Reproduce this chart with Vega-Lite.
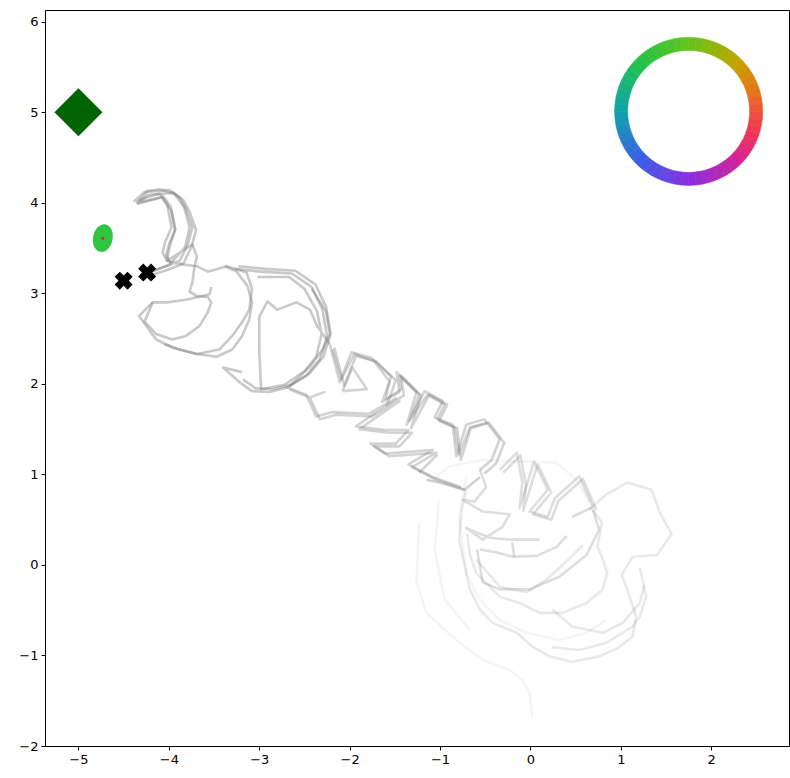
{
"$schema": "https://vega.github.io/schema/vega-lite/v6.json",
"width": 744, "height": 736,
"autosize": {"type": "none"},
"padding": {"left": 45, "top": 10, "right": 1, "bottom": 32},
"background": "white",
"config": {
  "view": {"stroke": "#000", "strokeWidth": 1},
  "axis": {"domain": false, "grid": false, "tickColor": "#000", "tickSize": 4, "labelFont": "DejaVu Sans", "labelFontSize": 13, "labelColor": "#000", "labelPadding": 3}
},
"datasets": {
  "la": [
    {"p":1,"x":-4.24,"y":3.23},{"p":1,"x":-4.05,"y":3.29},{"p":1,"x":-3.88,"y":3.36},{"p":1,"x":-3.79,"y":3.54},{"p":1,"x":-3.74,"y":3.73},{"p":1,"x":-3.81,"y":3.93},{"p":1,"x":-3.88,"y":4.06},{"p":1,"x":-3.99,"y":4.14},{"p":1,"x":-4.27,"y":4.12},{"p":1,"x":-4.38,"y":4.02},{"p":1,"x":-4.10,"y":4.10},{"p":1,"x":-4.02,"y":3.99},{"p":1,"x":-3.97,"y":3.73},{"p":1,"x":-4.04,"y":3.57},{"p":1,"x":-4.07,"y":3.45},{"p":1,"x":-4.02,"y":3.36},{"p":1,"x":-3.85,"y":3.32},{"p":1,"x":-3.69,"y":3.30},{"p":1,"x":-3.57,"y":3.24},{"p":1,"x":-3.36,"y":3.30},{"p":1,"x":-3.14,"y":3.23},{"p":1,"x":-3.08,"y":3.05},{"p":1,"x":-3.11,"y":2.82},{"p":1,"x":-3.19,"y":2.68},{"p":1,"x":-3.30,"y":2.53},{"p":1,"x":-3.44,"y":2.38},{"p":1,"x":-3.69,"y":2.33},{"p":1,"x":-3.96,"y":2.40},{"p":1,"x":-4.14,"y":2.49},{"p":1,"x":-4.25,"y":2.64},{"p":1,"x":-4.33,"y":2.75},{"p":1,"x":-4.18,"y":2.90},{"p":1,"x":-4.02,"y":2.90},{"p":1,"x":-3.81,"y":2.93},{"p":1,"x":-3.55,"y":2.99},{"p":1,"x":-3.53,"y":3.07},
    {"p":2,"x":-4.19,"y":3.24},{"p":2,"x":-3.99,"y":3.32},{"p":2,"x":-3.82,"y":3.51},{"p":2,"x":-3.77,"y":3.73},{"p":2,"x":-3.83,"y":3.95},{"p":2,"x":-3.94,"y":4.10},{"p":2,"x":-4.10,"y":4.15},{"p":2,"x":-4.24,"y":4.13},{"p":2,"x":-4.35,"y":4.00},{"p":2,"x":-4.08,"y":4.06},{"p":2,"x":-3.97,"y":3.91},{"p":2,"x":-3.93,"y":3.71},{"p":2,"x":-3.99,"y":3.52},{"p":2,"x":-4.02,"y":3.36},{"p":2,"x":-3.74,"y":3.54},{"p":2,"x":-3.69,"y":3.41},{"p":2,"x":-3.72,"y":3.27},{"p":2,"x":-3.74,"y":3.12},{"p":2,"x":-3.77,"y":3.02},{"p":2,"x":-3.69,"y":2.97},{"p":2,"x":-3.57,"y":2.96},{"p":2,"x":-3.53,"y":2.90},{"p":2,"x":-3.57,"y":2.79},{"p":2,"x":-3.66,"y":2.64},{"p":2,"x":-3.81,"y":2.53},{"p":2,"x":-3.96,"y":2.49},{"p":2,"x":-4.14,"y":2.55},{"p":2,"x":-4.27,"y":2.69},{"p":2,"x":-4.21,"y":2.82},{"p":2,"x":-4.18,"y":2.90},
    {"p":3,"x":-3.38,"y":3.30},{"p":3,"x":-3.25,"y":3.24},{"p":3,"x":-3.13,"y":3.08},{"p":3,"x":-3.08,"y":2.90},{"p":3,"x":-3.11,"y":2.71},{"p":3,"x":-3.19,"y":2.53},{"p":3,"x":-3.30,"y":2.38},{"p":3,"x":-3.47,"y":2.30},{"p":3,"x":-3.69,"y":2.33},{"p":3,"x":-3.88,"y":2.38},{"p":3,"x":-4.05,"y":2.44},
    {"p":4,"x":-3.27,"y":3.27},{"p":4,"x":-2.98,"y":3.24},{"p":4,"x":-2.64,"y":3.22},{"p":4,"x":-2.42,"y":3.07},{"p":4,"x":-2.30,"y":2.82},{"p":4,"x":-2.25,"y":2.52},{"p":4,"x":-2.33,"y":2.27},{"p":4,"x":-2.48,"y":2.09},{"p":4,"x":-2.69,"y":1.96},{"p":4,"x":-2.89,"y":1.91},{"p":4,"x":-3.08,"y":1.92},{"p":4,"x":-3.22,"y":2.02},{"p":4,"x":-3.40,"y":2.18},{"p":4,"x":-3.19,"y":2.13},
    {"p":5,"x":-3.02,"y":3.18},{"p":5,"x":-2.67,"y":3.18},{"p":5,"x":-2.50,"y":3.05},{"p":5,"x":-2.36,"y":2.80},{"p":5,"x":-2.31,"y":2.55},{"p":5,"x":-2.37,"y":2.30},{"p":5,"x":-2.50,"y":2.14},{"p":5,"x":-2.72,"y":1.99},{"p":5,"x":-2.98,"y":1.94},{"p":5,"x":-3.00,"y":2.38},{"p":5,"x":-3.00,"y":2.74},{"p":5,"x":-2.91,"y":2.91},{"p":5,"x":-2.80,"y":2.82},{"p":5,"x":-2.59,"y":2.90},{"p":5,"x":-2.44,"y":2.82},{"p":5,"x":-2.36,"y":2.64},{"p":5,"x":-2.22,"y":2.44},
    {"p":6,"x":-2.67,"y":1.97},{"p":6,"x":-2.44,"y":2.19},{"p":6,"x":-2.30,"y":2.38},{"p":6,"x":-2.22,"y":2.55},{"p":6,"x":-2.26,"y":2.80},{"p":6,"x":-2.42,"y":3.05},
    {"p":7,"x":-4.20,"y":3.20},{"p":7,"x":-4.01,"y":3.26},{"p":7,"x":-3.84,"y":3.33},{"p":7,"x":-3.75,"y":3.51},{"p":7,"x":-3.70,"y":3.70},{"p":7,"x":-3.77,"y":3.90},{"p":7,"x":-3.84,"y":4.03},{"p":7,"x":-3.95,"y":4.11},{"p":7,"x":-4.23,"y":4.09},{"p":7,"x":-4.34,"y":3.99},{"p":7,"x":-4.06,"y":4.07},{"p":7,"x":-3.98,"y":3.96},{"p":7,"x":-3.93,"y":3.70},{"p":7,"x":-4.00,"y":3.54},{"p":7,"x":-4.03,"y":3.42},{"p":7,"x":-3.98,"y":3.33},
    {"p":8,"x":-3.23,"y":3.30},{"p":8,"x":-2.94,"y":3.27},{"p":8,"x":-2.60,"y":3.25},{"p":8,"x":-2.38,"y":3.10},{"p":8,"x":-2.26,"y":2.85},{"p":8,"x":-2.21,"y":2.55},{"p":8,"x":-2.29,"y":2.30},{"p":8,"x":-2.44,"y":2.12},{"p":8,"x":-2.65,"y":1.99},{"p":8,"x":-2.85,"y":1.94},{"p":8,"x":-3.04,"y":1.95},{"p":8,"x":-3.18,"y":2.05}
  ],
  "lb": [
    {"p":1,"x":-2.22,"y":2.44},{"p":1,"x":-2.11,"y":2.02},{"p":1,"x":-1.98,"y":2.35},{"p":1,"x":-1.76,"y":2.29},{"p":1,"x":-1.54,"y":2.08},{"p":1,"x":-1.64,"y":1.80},{"p":1,"x":-1.45,"y":1.91},{"p":1,"x":-1.48,"y":2.13},{"p":1,"x":-1.26,"y":1.91},{"p":1,"x":-1.37,"y":1.55},{"p":1,"x":-1.17,"y":1.92},{"p":1,"x":-0.97,"y":1.81},{"p":1,"x":-1.06,"y":1.63},{"p":1,"x":-0.86,"y":1.55},{"p":1,"x":-0.82,"y":1.20},{"p":1,"x":-0.71,"y":1.55},{"p":1,"x":-0.51,"y":1.61},{"p":1,"x":-0.34,"y":1.39},{"p":1,"x":-0.43,"y":1.16},{"p":1,"x":-0.56,"y":1.05},
    {"p":2,"x":-2.67,"y":1.94},{"p":2,"x":-2.44,"y":1.85},{"p":2,"x":-2.28,"y":1.91},{"p":2,"x":-2.44,"y":1.85},{"p":2,"x":-2.33,"y":1.61},{"p":2,"x":-2.15,"y":1.66},{"p":2,"x":-1.75,"y":1.64},{"p":2,"x":-1.45,"y":1.81},{"p":2,"x":-1.89,"y":1.50},{"p":2,"x":-1.56,"y":1.46},{"p":2,"x":-1.31,"y":1.46},{"p":2,"x":-1.45,"y":1.31},{"p":2,"x":-1.73,"y":1.31},{"p":2,"x":-1.56,"y":1.20},{"p":2,"x":-1.04,"y":1.24},{"p":2,"x":-1.31,"y":1.08},{"p":2,"x":-1.04,"y":0.94},{"p":2,"x":-0.73,"y":0.83},{"p":2,"x":-0.56,"y":0.97},
    {"p":3,"x":-2.08,"y":1.92},{"p":3,"x":-1.97,"y":2.18},{"p":3,"x":-1.81,"y":1.94},{"p":3,"x":-2.08,"y":1.92},
    {"p":4,"x":-2.19,"y":2.38},{"p":4,"x":-2.09,"y":2.05},{"p":4,"x":-1.95,"y":2.33},{"p":4,"x":-1.73,"y":2.25},{"p":4,"x":-1.56,"y":2.03},{"p":4,"x":-1.60,"y":1.83},{"p":4,"x":-1.43,"y":1.94},{"p":4,"x":-1.45,"y":2.09},{"p":4,"x":-1.23,"y":1.88},{"p":4,"x":-1.34,"y":1.59},{"p":4,"x":-1.14,"y":1.88},{"p":4,"x":-0.95,"y":1.77},{"p":4,"x":-1.03,"y":1.61},{"p":4,"x":-0.84,"y":1.52},{"p":4,"x":-0.79,"y":1.22},{"p":4,"x":-0.67,"y":1.52},{"p":4,"x":-0.48,"y":1.57},
    {"p":5,"x":-1.23,"y":1.02},{"p":5,"x":-1.03,"y":1.22},
    {"p":6,"x":-1.15,"y":0.94},{"p":6,"x":-1.01,"y":0.91},{"p":6,"x":-0.73,"y":0.83},
    {"p":7,"x":-2.17,"y":2.40},{"p":7,"x":-2.06,"y":1.98},{"p":7,"x":-1.93,"y":2.31},{"p":7,"x":-1.71,"y":2.25},{"p":7,"x":-1.49,"y":2.04},{"p":7,"x":-1.59,"y":1.76},{"p":7,"x":-1.40,"y":1.87},{"p":7,"x":-1.43,"y":2.09},{"p":7,"x":-1.21,"y":1.87},{"p":7,"x":-1.32,"y":1.51},{"p":7,"x":-1.12,"y":1.88},{"p":7,"x":-0.92,"y":1.77},{"p":7,"x":-1.01,"y":1.59},{"p":7,"x":-0.81,"y":1.51},{"p":7,"x":-0.77,"y":1.16},{"p":7,"x":-0.66,"y":1.51},{"p":7,"x":-0.46,"y":1.57},{"p":7,"x":-0.29,"y":1.35},{"p":7,"x":-0.38,"y":1.12},{"p":7,"x":-0.51,"y":1.01},
    {"p":8,"x":-2.71,"y":1.97},{"p":8,"x":-2.48,"y":1.88},{"p":8,"x":-2.37,"y":1.64},{"p":8,"x":-2.19,"y":1.69},{"p":8,"x":-1.79,"y":1.67},{"p":8,"x":-1.49,"y":1.84},{"p":8,"x":-1.93,"y":1.53},{"p":8,"x":-1.60,"y":1.49},{"p":8,"x":-1.35,"y":1.49},{"p":8,"x":-1.49,"y":1.34},{"p":8,"x":-1.77,"y":1.34},{"p":8,"x":-1.60,"y":1.23},{"p":8,"x":-1.08,"y":1.27},{"p":8,"x":-1.35,"y":1.11},{"p":8,"x":-1.08,"y":0.97},{"p":8,"x":-0.77,"y":0.86}
  ],
  "lc": [
    {"p":1,"x":-0.56,"y":1.05},{"p":1,"x":-0.49,"y":0.86},{"p":1,"x":-0.62,"y":0.70},{"p":1,"x":-0.75,"y":0.72},{"p":1,"x":-0.53,"y":0.59},{"p":1,"x":-0.23,"y":0.56},{"p":1,"x":-0.31,"y":0.42},{"p":1,"x":-0.53,"y":0.28},{"p":1,"x":-0.71,"y":0.41},{"p":1,"x":-0.67,"y":0.39},{"p":1,"x":-0.45,"y":0.30},{"p":1,"x":-0.23,"y":0.28},{"p":1,"x":0.10,"y":0.28},
    {"p":2,"x":-0.34,"y":1.05},{"p":2,"x":-0.15,"y":1.24},{"p":2,"x":-0.09,"y":0.91},{"p":2,"x":-0.12,"y":0.63},{"p":2,"x":0.04,"y":1.14},{"p":2,"x":0.19,"y":0.83},{"p":2,"x":-0.01,"y":0.59},{"p":2,"x":0.19,"y":0.53},{"p":2,"x":0.27,"y":0.74},{"p":2,"x":0.54,"y":0.98},{"p":2,"x":0.69,"y":0.64},{"p":2,"x":0.46,"y":0.53},
    {"p":3,"x":-0.56,"y":0.17},{"p":3,"x":-0.38,"y":0.14},{"p":3,"x":-0.20,"y":0.09},{"p":3,"x":0.07,"y":0.10},{"p":3,"x":0.29,"y":0.20},{"p":3,"x":0.40,"y":0.32},
    {"p":4,"x":-0.20,"y":0.25},{"p":4,"x":-0.18,"y":0.09},
    {"p":5,"x":-0.59,"y":0.17},{"p":5,"x":-0.53,"y":-0.19},{"p":5,"x":-0.34,"y":-0.27},{"p":5,"x":-0.01,"y":-0.27},{"p":5,"x":0.32,"y":-0.13},{"p":5,"x":0.62,"y":0.11},{"p":5,"x":0.76,"y":0.39},{"p":5,"x":0.69,"y":0.61},
    {"p":6,"x":-0.30,"y":1.02},{"p":6,"x":-0.11,"y":1.21},{"p":6,"x":-0.05,"y":0.88},{"p":6,"x":-0.08,"y":0.60},{"p":6,"x":0.08,"y":1.11},{"p":6,"x":0.23,"y":0.80},{"p":6,"x":0.03,"y":0.56},{"p":6,"x":0.23,"y":0.50},{"p":6,"x":0.31,"y":0.71},{"p":6,"x":0.58,"y":0.95},{"p":6,"x":0.73,"y":0.61}
  ],
  "ld": [
    {"p":1,"x":0.65,"y":0.61},{"p":1,"x":0.84,"y":0.78},{"p":1,"x":1.07,"y":0.91},{"p":1,"x":1.34,"y":0.83},{"p":1,"x":1.43,"y":0.58},{"p":1,"x":1.56,"y":0.34},{"p":1,"x":1.40,"y":0.11},{"p":1,"x":1.13,"y":0.09},{"p":1,"x":1.01,"y":-0.11},{"p":1,"x":1.07,"y":-0.27},{"p":1,"x":1.17,"y":-0.57},{"p":1,"x":1.13,"y":-0.79},{"p":1,"x":0.98,"y":-0.91},{"p":1,"x":0.76,"y":-1.01},{"p":1,"x":0.46,"y":-1.07},{"p":1,"x":0.21,"y":-1.01},{"p":1,"x":0.02,"y":-0.90},{"p":1,"x":-0.15,"y":-0.75},{"p":1,"x":-0.42,"y":-0.64},{"p":1,"x":-0.56,"y":-0.49},{"p":1,"x":-0.67,"y":-0.27},{"p":1,"x":-0.71,"y":-0.09},{"p":1,"x":-0.79,"y":0.28},{"p":1,"x":-0.76,"y":0.61},{"p":1,"x":-0.71,"y":0.83},
    {"p":2,"x":0.69,"y":0.61},{"p":2,"x":0.79,"y":0.47},{"p":2,"x":0.74,"y":0.20},{"p":2,"x":0.79,"y":0.09},{"p":2,"x":0.85,"y":-0.09},{"p":2,"x":0.80,"y":-0.27},{"p":2,"x":0.62,"y":-0.42},{"p":2,"x":0.35,"y":-0.53},{"p":2,"x":0.10,"y":-0.53},{"p":2,"x":-0.12,"y":-0.42},{"p":2,"x":-0.34,"y":-0.35},{"p":2,"x":-0.45,"y":-0.24},{"p":2,"x":-0.60,"y":-0.09},{"p":2,"x":-0.67,"y":0.11},{"p":2,"x":-0.70,"y":0.34},
    {"p":3,"x":1.21,"y":-0.03},{"p":3,"x":1.28,"y":-0.35},{"p":3,"x":1.21,"y":-0.57},{"p":3,"x":1.13,"y":-0.68},{"p":3,"x":0.84,"y":-0.86},{"p":3,"x":0.54,"y":-0.94},{"p":3,"x":0.24,"y":-0.91},
    {"p":4,"x":0.24,"y":-0.49},{"p":4,"x":0.46,"y":-0.68},{"p":4,"x":0.80,"y":-0.75},{"p":4,"x":1.02,"y":-0.64},{"p":4,"x":1.21,"y":-0.42},{"p":4,"x":1.26,"y":-0.22},
    {"p":5,"x":-0.60,"y":0.06},{"p":5,"x":-0.34,"y":-0.24},{"p":5,"x":-0.04,"y":-0.30},{"p":5,"x":0.18,"y":-0.16},{"p":5,"x":0.40,"y":0.04},{"p":5,"x":0.58,"y":0.22}
  ],
  "le": [
    {"p":1,"x":-1.12,"y":0.91},{"p":1,"x":-0.90,"y":1.09},{"p":1,"x":-0.53,"y":1.16},{"p":1,"x":-0.04,"y":1.14},{"p":1,"x":0.29,"y":1.13},{"p":1,"x":0.51,"y":0.94},{"p":1,"x":0.65,"y":0.69},
    {"p":2,"x":-1.23,"y":0.47},{"p":2,"x":-1.26,"y":-0.19},{"p":2,"x":-1.15,"y":-0.53},{"p":2,"x":-0.82,"y":-0.83},{"p":2,"x":-0.53,"y":-1.05},{"p":2,"x":-0.23,"y":-1.16},{"p":2,"x":-0.09,"y":-1.27},{"p":2,"x":-0.01,"y":-1.41},{"p":2,"x":0.02,"y":-1.68},
    {"p":3,"x":-0.71,"y":0.98},{"p":3,"x":-0.79,"y":0.53},{"p":3,"x":-0.71,"y":-0.09},{"p":3,"x":-0.56,"y":-0.38},{"p":3,"x":-0.34,"y":-0.61},{"p":3,"x":-0.04,"y":-0.75},{"p":3,"x":0.32,"y":-0.83},{"p":3,"x":0.62,"y":-0.75},{"p":3,"x":0.84,"y":-0.61},
    {"p":4,"x":-1.01,"y":0.72},{"p":4,"x":-1.06,"y":0.17},{"p":4,"x":-0.95,"y":-0.38},{"p":4,"x":-0.67,"y":-0.72}
  ],
  "goal": [{"x": -5.0, "y": 5.0}],
  "blob": [{"x": -4.73, "y": 3.61}],
  "xs": [{"x": -4.50, "y": 3.14}, {"x": -4.24, "y": 3.23}],
  "ring": [
    {"x":1.75,"y":5.01,"a0":0,"a1":6,"c":3},{"x":1.75,"y":5.01,"a0":6,"a1":12,"c":9},{"x":1.75,"y":5.01,"a0":12,"a1":18,"c":15},{"x":1.75,"y":5.01,"a0":18,"a1":24,"c":21},{"x":1.75,"y":5.01,"a0":24,"a1":30,"c":27},{"x":1.75,"y":5.01,"a0":30,"a1":36,"c":33},{"x":1.75,"y":5.01,"a0":36,"a1":42,"c":39},{"x":1.75,"y":5.01,"a0":42,"a1":48,"c":45},{"x":1.75,"y":5.01,"a0":48,"a1":54,"c":51},{"x":1.75,"y":5.01,"a0":54,"a1":60,"c":57},
    {"x":1.75,"y":5.01,"a0":60,"a1":66,"c":63},{"x":1.75,"y":5.01,"a0":66,"a1":72,"c":69},{"x":1.75,"y":5.01,"a0":72,"a1":78,"c":75},{"x":1.75,"y":5.01,"a0":78,"a1":84,"c":81},{"x":1.75,"y":5.01,"a0":84,"a1":90,"c":87},{"x":1.75,"y":5.01,"a0":90,"a1":96,"c":93},{"x":1.75,"y":5.01,"a0":96,"a1":102,"c":99},{"x":1.75,"y":5.01,"a0":102,"a1":108,"c":105},{"x":1.75,"y":5.01,"a0":108,"a1":114,"c":111},{"x":1.75,"y":5.01,"a0":114,"a1":120,"c":117},
    {"x":1.75,"y":5.01,"a0":120,"a1":126,"c":123},{"x":1.75,"y":5.01,"a0":126,"a1":132,"c":129},{"x":1.75,"y":5.01,"a0":132,"a1":138,"c":135},{"x":1.75,"y":5.01,"a0":138,"a1":144,"c":141},{"x":1.75,"y":5.01,"a0":144,"a1":150,"c":147},{"x":1.75,"y":5.01,"a0":150,"a1":156,"c":153},{"x":1.75,"y":5.01,"a0":156,"a1":162,"c":159},{"x":1.75,"y":5.01,"a0":162,"a1":168,"c":165},{"x":1.75,"y":5.01,"a0":168,"a1":174,"c":171},{"x":1.75,"y":5.01,"a0":174,"a1":180,"c":177},
    {"x":1.75,"y":5.01,"a0":180,"a1":186,"c":183},{"x":1.75,"y":5.01,"a0":186,"a1":192,"c":189},{"x":1.75,"y":5.01,"a0":192,"a1":198,"c":195},{"x":1.75,"y":5.01,"a0":198,"a1":204,"c":201},{"x":1.75,"y":5.01,"a0":204,"a1":210,"c":207},{"x":1.75,"y":5.01,"a0":210,"a1":216,"c":213},{"x":1.75,"y":5.01,"a0":216,"a1":222,"c":219},{"x":1.75,"y":5.01,"a0":222,"a1":228,"c":225},{"x":1.75,"y":5.01,"a0":228,"a1":234,"c":231},{"x":1.75,"y":5.01,"a0":234,"a1":240,"c":237},
    {"x":1.75,"y":5.01,"a0":240,"a1":246,"c":243},{"x":1.75,"y":5.01,"a0":246,"a1":252,"c":249},{"x":1.75,"y":5.01,"a0":252,"a1":258,"c":255},{"x":1.75,"y":5.01,"a0":258,"a1":264,"c":261},{"x":1.75,"y":5.01,"a0":264,"a1":270,"c":267},{"x":1.75,"y":5.01,"a0":270,"a1":276,"c":273},{"x":1.75,"y":5.01,"a0":276,"a1":282,"c":279},{"x":1.75,"y":5.01,"a0":282,"a1":288,"c":285},{"x":1.75,"y":5.01,"a0":288,"a1":294,"c":291},{"x":1.75,"y":5.01,"a0":294,"a1":300,"c":297},
    {"x":1.75,"y":5.01,"a0":300,"a1":306,"c":303},{"x":1.75,"y":5.01,"a0":306,"a1":312,"c":309},{"x":1.75,"y":5.01,"a0":312,"a1":318,"c":315},{"x":1.75,"y":5.01,"a0":318,"a1":324,"c":321},{"x":1.75,"y":5.01,"a0":324,"a1":330,"c":327},{"x":1.75,"y":5.01,"a0":330,"a1":336,"c":333},{"x":1.75,"y":5.01,"a0":336,"a1":342,"c":339},{"x":1.75,"y":5.01,"a0":342,"a1":348,"c":345},{"x":1.75,"y":5.01,"a0":348,"a1":354,"c":351},{"x":1.75,"y":5.01,"a0":354,"a1":360,"c":357}
  ]
},
"encoding": {
  "x": {"field": "x", "type": "quantitative", "title": null, "scale": {"domain": [-5.37, 2.86], "nice": false, "zero": false}, "axis": {"values": [-5, -4, -3, -2, -1, 0, 1, 2]}},
  "y": {"field": "y", "type": "quantitative", "title": null, "scale": {"domain": [-2, 6.13], "nice": false, "zero": false}, "axis": {"values": [-2, -1, 0, 1, 2, 3, 4, 5, 6]}}
},
"layer": [
  {"data": {"name": "le"}, "mark": {"type": "line", "color": "#7f7f7f", "strokeWidth": 2.6, "opacity": 0.08, "strokeJoin": "round"}, "encoding": {"detail": {"field": "p"}, "order": {"value": null}}},
  {"data": {"name": "ld"}, "mark": {"type": "line", "color": "#7f7f7f", "strokeWidth": 2.6, "opacity": 0.17, "strokeJoin": "round"}, "encoding": {"detail": {"field": "p"}, "order": {"value": null}}},
  {"data": {"name": "lc"}, "mark": {"type": "line", "color": "#7f7f7f", "strokeWidth": 2.6, "opacity": 0.26, "strokeJoin": "round"}, "encoding": {"detail": {"field": "p"}, "order": {"value": null}}},
  {"data": {"name": "lb"}, "mark": {"type": "line", "color": "#7f7f7f", "strokeWidth": 2.6, "opacity": 0.34, "strokeJoin": "round"}, "encoding": {"detail": {"field": "p"}, "order": {"value": null}}},
  {"data": {"name": "la"}, "mark": {"type": "line", "color": "#7f7f7f", "strokeWidth": 2.6, "opacity": 0.42, "strokeJoin": "round"}, "encoding": {"detail": {"field": "p"}, "order": {"value": null}}},
  {"data": {"name": "ring"}, "mark": {"type": "arc", "radius": 74, "radius2": 61, "strokeWidth": 0.6},
   "encoding": {
     "theta": {"field": "a0", "type": "quantitative", "scale": {"domain": [0, 360], "range": [0, 6.2831853]}},
     "theta2": {"field": "a1"},
     "color": {"field": "c", "type": "quantitative", "legend": null, "scale": {"domain": [0, 45, 70, 90, 110, 135, 180, 225, 270, 315, 360], "range": ["#62c41e", "#c2a300", "#e27a14", "#ef5238", "#f0355a", "#d42296", "#8a2fe0", "#3a5ee6", "#12a2ac", "#22c24a", "#62c41e"], "interpolate": "rgb"}},
     "stroke": {"field": "c", "type": "quantitative", "legend": null, "scale": {"domain": [0, 45, 70, 90, 110, 135, 180, 225, 270, 315, 360], "range": ["#62c41e", "#c2a300", "#e27a14", "#ef5238", "#f0355a", "#d42296", "#8a2fe0", "#3a5ee6", "#12a2ac", "#22c24a", "#62c41e"], "interpolate": "rgb"}}
   }},
  {"data": {"name": "goal"}, "mark": {"type": "point", "shape": "diamond", "size": 2304, "filled": true, "color": "#006400", "opacity": 1}},
  {"data": {"name": "blob"}, "mark": {"type": "point", "shape": "M0,-1C0.39,-1 0.7,-0.55 0.7,0C0.7,0.55 0.39,1 0,1C-0.39,1 -0.7,0.55 -0.7,0C-0.7,-0.55 -0.39,-1 0,-1Z", "size": 784, "angle": 12, "filled": true, "color": "#31c443", "opacity": 1}},
  {"data": {"name": "blob"}, "mark": {"type": "point", "shape": "circle", "size": 9, "filled": true, "color": "#d8301c", "opacity": 1}},
  {"data": {"name": "xs"}, "mark": {"type": "point", "shape": "cross", "size": 330, "angle": 45, "filled": true, "color": "#000000", "opacity": 1}}
]
}
